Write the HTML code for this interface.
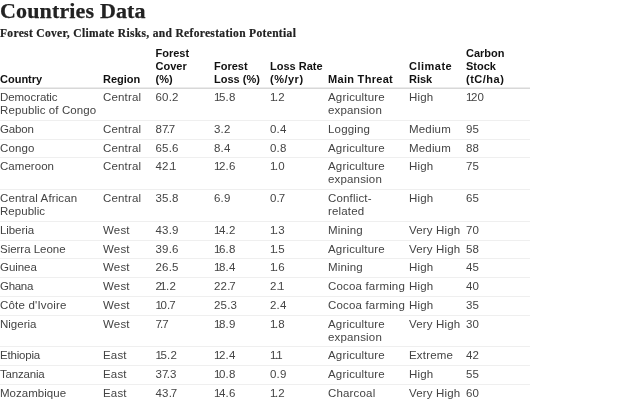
<!DOCTYPE html>
<html><head><meta charset="utf-8">
<style>
html,body{margin:0;padding:0;background:#fff;}
body{width:640px;height:400px;overflow:hidden;font-family:"Liberation Sans",sans-serif;color:#333;}
h1{-webkit-text-stroke:0.25px #222;font-family:"Liberation Serif",serif;font-weight:bold;font-size:22px;line-height:24px;margin:0;padding:0;color:#222;position:absolute;left:0;top:-1px;letter-spacing:0.15px;white-space:nowrap;}
h2{-webkit-text-stroke:0.2px #222;font-family:"Liberation Serif",serif;font-weight:bold;font-size:11.5px;letter-spacing:0.33px;line-height:14px;margin:0;color:#222;position:absolute;left:0;top:26.4px;white-space:nowrap;}
table{position:absolute;left:0;top:44px;border-collapse:separate;border-spacing:0;font-size:11px;line-height:13px;table-layout:fixed;width:530px;}
th{font-weight:bold;text-align:left;vertical-align:bottom;padding:3px 0 2px 0;color:#111;border-bottom:1px solid #d8d8d8;background:linear-gradient(#ebebeb,#ebebeb) left bottom/100% 1px no-repeat;}
td{font-size:11.5px;letter-spacing:0.17px;vertical-align:top;padding:2px 0 2.75px 0;color:#444;border-bottom:1px solid #efefef;}
.a{margin-right:-1.6px}.b{margin-left:-2px;margin-right:-0.6px}
.c{margin-right:-2px}.d{margin-left:-1.2px}
</style></head><body>
<h1>Countries Data</h1>
<h2>Forest Cover, Climate Risks, and Reforestation Potential</h2>
<table>
<colgroup><col style="width:103px"><col style="width:52.5px"><col style="width:58.5px"><col style="width:56px"><col style="width:58px"><col style="width:81px"><col style="width:57px"><col style="width:64px"></colgroup>
<thead><tr><th>Country</th><th>Region</th><th>Forest<br>Cover<br>(%)</th><th>Forest<br>Loss (%)</th><th>Loss Rate<br><span style="letter-spacing:.5px">(%/yr)</span></th><th style="letter-spacing:.3px">Main Threat</th><th><span style="letter-spacing:.5px">Climate</span><br>Risk</th><th>Carbon<br>Stock<br><span style="letter-spacing:.5px">(tC/ha)</span></th></tr></thead>
<tbody>
<tr><td><span style="letter-spacing:-0.06px">Democratic</span><br><span style="letter-spacing:0.1px">Republic of Congo</span></td><td>Central</td><td>60.2</td><td><span class="a">1</span>5.8</td><td><span class="a">1</span>.2</td><td>Agriculture<br>expansion</td><td>High</td><td><span class="a">1</span>20</td></tr>
<tr><td><span style="letter-spacing:-0.14px">Gabon</span></td><td>Central</td><td>8<span class="c">7</span>.<span class="d">7</span></td><td>3.2</td><td>0.4</td><td>Logging</td><td>Medium</td><td>95</td></tr>
<tr><td><span style="letter-spacing:0.15px">Congo</span></td><td>Central</td><td>65.6</td><td>8.4</td><td>0.8</td><td>Agriculture</td><td>Medium</td><td>88</td></tr>
<tr><td><span style="letter-spacing:0.04px">Cameroon</span></td><td>Central</td><td>42.<span class="b">1</span></td><td><span class="a">1</span>2.6</td><td><span class="a">1</span>.0</td><td>Agriculture<br>expansion</td><td>High</td><td>75</td></tr>
<tr><td><span style="letter-spacing:0.12px">Central African</span><br><span style="letter-spacing:0.04px">Republic</span></td><td>Central</td><td>35.8</td><td>6.9</td><td>0.<span class="d">7</span></td><td>Conflict-<br>related</td><td>High</td><td>65</td></tr>
<tr><td><span style="letter-spacing:-0.08px">Liberia</span></td><td>West</td><td>43.9</td><td><span class="a">1</span>4.2</td><td><span class="a">1</span>.3</td><td>Mining</td><td>Very High</td><td>70</td></tr>
<tr><td><span style="letter-spacing:-0.02px">Sierra Leone</span></td><td>West</td><td>39.6</td><td><span class="a">1</span>6.8</td><td><span class="a">1</span>.5</td><td>Agriculture</td><td>Very High</td><td>58</td></tr>
<tr><td><span style="letter-spacing:-0.05px">Guinea</span></td><td>West</td><td>26.5</td><td><span class="a">1</span>8.4</td><td><span class="a">1</span>.6</td><td>Mining</td><td>High</td><td>45</td></tr>
<tr><td><span style="letter-spacing:-0.3px">Ghana</span></td><td>West</td><td>2<span class="b">1</span>.2</td><td>22.<span class="d">7</span></td><td>2.<span class="b">1</span></td><td>Cocoa farming</td><td>High</td><td>40</td></tr>
<tr><td><span style="letter-spacing:0.19px">Côte d'Ivoire</span></td><td>West</td><td><span class="a">1</span>0.<span class="d">7</span></td><td>25.3</td><td>2.4</td><td>Cocoa farming</td><td>High</td><td>35</td></tr>
<tr><td><span style="letter-spacing:0.0px">Nigeria</span></td><td>West</td><td><span class="c">7</span>.<span class="d">7</span></td><td><span class="a">1</span>8.9</td><td><span class="a">1</span>.8</td><td>Agriculture<br>expansion</td><td>Very High</td><td>30</td></tr>
<tr><td><span style="letter-spacing:-0.19px">Ethiopia</span></td><td>East</td><td><span class="a">1</span>5.2</td><td><span class="a">1</span>2.4</td><td><span class="a">1</span>.<span class="b">1</span></td><td>Agriculture</td><td>Extreme</td><td>42</td></tr>
<tr><td><span style="letter-spacing:-0.19px">Tanzania</span></td><td>East</td><td>3<span class="c">7</span>.3</td><td><span class="a">1</span>0.8</td><td>0.9</td><td>Agriculture</td><td>High</td><td>55</td></tr>
<tr><td><span style="letter-spacing:0.03px">Mozambique</span></td><td>East</td><td>43.<span class="d">7</span></td><td><span class="a">1</span>4.6</td><td><span class="a">1</span>.2</td><td>Charcoal</td><td>Very High</td><td>60</td></tr>
<tr><td>Madagascar</td><td>East</td><td>2<span class="b">1</span>.4</td><td>24.<span class="b">1</span></td><td>2.2</td><td>Agriculture</td><td>Very High</td><td>50</td></tr>
</tbody></table>
</body></html>
